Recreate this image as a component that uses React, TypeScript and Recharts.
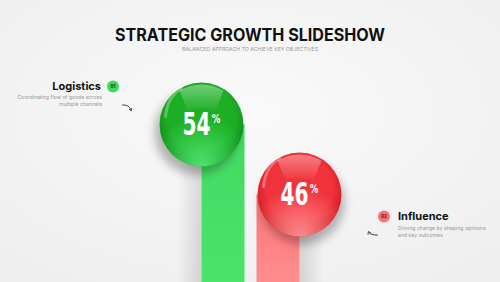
import React from 'react';
import { BarChart, Bar, XAxis, YAxis, Customized } from 'recharts';

const categories = ['Logistics', 'Influence'];
const values = [54, 46];
const badges = ['01', '02'];
const descriptions = [
  ['Coordinating flow of goods across', 'multiple channels'],
  ['Driving change by shaping opinions', 'and key outcomes'],
];
const title = 'STRATEGIC GROWTH SLIDESHOW';
const subtitle = 'BALANCED APPROACH TO ACHIEVE KEY OBJECTIVES';

const data = categories.map((name, i) => ({ name, value: values[i] }));

const palettes = [
  { light: '#52e872', mid: '#1faf28', dark: '#0f8418', bar: '#4ae46b', barTop: '#43d962', badge: '#3ddc5c' },
  { light: '#ff9296', mid: '#f0323a', dark: '#c41820', bar: '#ff8e8f', barTop: '#ff7478', badge: '#ff6f73' },
];

const R = 42;

const BallBar = (props: any) => {
  const { x, y, width, height, index } = props;
  const cx = x + width / 2;
  const cy = y;
  const bottom = y + height + 2;
  const p = palettes[index];
  const left = index === 0;
  const barX = left ? cx : cx - width;
  const id = `b${index}`;
  const numFont = "'DejaVu Sans Condensed', 'DejaVu Sans', sans-serif";
  return (
    <g>
      <defs>
        <radialGradient id={`${id}-body`} cx="50%" cy="42%" r="60%">
          <stop offset="0%" stopColor={p.mid} />
          <stop offset="65%" stopColor={p.mid} />
          <stop offset="100%" stopColor={p.dark} />
        </radialGradient>
        <radialGradient id={`${id}-glow`} cx="50%" cy="100%" r="60%">
          <stop offset="0%" stopColor={p.light} stopOpacity={0.95} />
          <stop offset="100%" stopColor={p.light} stopOpacity={0} />
        </radialGradient>
        <linearGradient id={`${id}-hi`} x1="0" y1="0" x2="0" y2="1">
          <stop offset="0%" stopColor="#ffffff" stopOpacity={0.75} />
          <stop offset="100%" stopColor="#ffffff" stopOpacity={0.05} />
        </linearGradient>
        <linearGradient id={`${id}-bar`} x1="0" y1="0" x2="0" y2="1">
          <stop offset="0%" stopColor={p.barTop} />
          <stop offset="100%" stopColor={p.bar} />
        </linearGradient>
        <linearGradient id={`${id}-sh`} x1={left ? '1' : '0'} y1="0" x2={left ? '0' : '1'} y2="0">
          <stop offset="0%" stopColor="#000" stopOpacity={0.14} />
          <stop offset="100%" stopColor="#000" stopOpacity={0} />
        </linearGradient>
        <filter id={`${id}-ds`} x="-40%" y="-40%" width="180%" height="180%">
          <feDropShadow dx={left ? -5 : 3} dy={8} stdDeviation={5} floodColor="#000" floodOpacity={0.28} />
        </filter>
      </defs>
      <rect x={left ? barX - 24 : barX + width} y={cy + 20} width={24} height={bottom - cy - 20} fill={`url(#${id}-sh)`} opacity={0.9} />
      <rect x={barX} y={cy} width={width} height={bottom - cy} fill={`url(#${id}-bar)`} />
      <circle cx={cx} cy={cy} r={R} fill={`url(#${id}-body)`} filter={`url(#${id}-ds)`} />
      <circle cx={cx} cy={cy} r={R} fill={`url(#${id}-glow)`} />
      <path
        d={`M ${cx - 22} ${cy - 34} Q ${cx} ${cy - 46} ${cx + 22} ${cy - 34} L ${cx + 14} ${cy - 14} Q ${cx} ${cy - 19} ${cx - 14} ${cy - 14} Z`}
        fill={`url(#${id}-hi)`}
        opacity={0.5}
      />
      <path d={`M ${cx - 36} ${cy - 8} Q ${cx - 34} ${cy - 28} ${cx - 20} ${cy - 36}`} stroke="#fff" strokeOpacity={0.3} strokeWidth={3} fill="none" strokeLinecap="round" />
      <text
        transform={`translate(${cx - 5}, ${cy + 10.5}) scale(0.7, 1)`}
        textAnchor="middle"
        fill="#ffffff"
        fontFamily={numFont}
        fontWeight={700}
        fontSize={32}
      >
        {values[index]}
      </text>
      <text
        transform={`translate(${cx + 14.5}, ${cy - 1.5}) scale(0.8, 1)`}
        textAnchor="middle"
        fill="#ffffff"
        fontFamily={numFont}
        fontWeight={700}
        fontSize={12}
      >
        %
      </text>
    </g>
  );
};

const Annotations = (props: any) => {
  const xs = [201, 299];
  const ys = [124.5, 194.5];
  const font = "Inter, 'Noto Sans', sans-serif";
  return (
    <g>
      <text x={250} y={41} textAnchor="middle" fontFamily={font} fontWeight={700} fontSize={17} fill="#111" textLength={270} lengthAdjust="spacingAndGlyphs">
        {title}
      </text>
      <text x={250} y={51} textAnchor="middle" fontFamily={font} fontSize={5.2} fill="#9a9a9a" textLength={136} lengthAdjust="spacingAndGlyphs">
        {subtitle}
      </text>
      <text x={xs[0] - 100} y={ys[0] - 35} textAnchor="end" fontFamily={font} fontWeight={700} fontSize={11} fill="#111">
        {categories[0]}
      </text>
      <circle cx={xs[0] - 88} cy={ys[0] - 38} r={6} fill={palettes[0].badge} />
      <text x={xs[0] - 88} y={ys[0] - 36.3} textAnchor="middle" fontFamily={font} fontWeight={700} fontSize={4.5} fill="#222">{badges[0]}</text>
      {descriptions[0].map((d, i) => (
        <text key={i} x={xs[0] - 99} y={ys[0] - 26 + i * 7} textAnchor="end" fontFamily={font} fontSize={5.2} fill="#999">{d}</text>
      ))}
      <path d={`M ${xs[0] - 79} ${ys[0] - 19.5} Q ${xs[0] - 72} ${ys[0] - 20} ${xs[0] - 70} ${ys[0] - 14.5}`} stroke="#333" strokeWidth={0.9} fill="none" />
      <path d={`M ${xs[0] - 72} ${ys[0] - 15.5} L ${xs[0] - 69.8} ${ys[0] - 13.5} L ${xs[0] - 69.2} ${ys[0] - 16.5}`} stroke="#333" strokeWidth={0.8} fill="none" />
      <circle cx={xs[1] + 85} cy={ys[1] + 22} r={6} fill={palettes[1].badge} />
      <text x={xs[1] + 85} y={ys[1] + 23.7} textAnchor="middle" fontFamily={font} fontWeight={700} fontSize={4.5} fill="#222">{badges[1]}</text>
      <text x={xs[1] + 99} y={ys[1] + 25} fontFamily={font} fontWeight={700} fontSize={11} fill="#111">
        {categories[1]}
      </text>
      {descriptions[1].map((d, i) => (
        <text key={i} x={xs[1] + 99} y={ys[1] + 35 + i * 7} fontFamily={font} fontSize={5.2} fill="#999">{d}</text>
      ))}
      <path d={`M ${xs[1] + 69.5} ${ys[1] + 37.5} Q ${xs[1] + 72} ${ys[1] + 41} ${xs[1] + 79} ${ys[1] + 40.5}`} stroke="#333" strokeWidth={0.9} fill="none" />
      <path d={`M ${xs[1] + 69} ${ys[1] + 40.5} L ${xs[1] + 69.3} ${ys[1] + 37} L ${xs[1] + 72} ${ys[1] + 38.5}`} stroke="#333" strokeWidth={0.8} fill="none" />
    </g>
  );
};

export default function App() {
  return (
    <div style={{ position: 'fixed', left: 0, top: 0, width: 500, height: 282, background: '#f5f5f5' }}>
      <BarChart width={500} height={282} data={data} margin={{ top: 72, right: 152, bottom: 0, left: 152 }}>
        <defs>
          <radialGradient id="bgGrad" cx="50%" cy="40%" r="70%">
            <stop offset="0%" stopColor="#fafafa" />
            <stop offset="100%" stopColor="#efefef" />
          </radialGradient>
        </defs>
        <rect x={0} y={0} width={500} height={282} fill="url(#bgGrad)" />
        <XAxis dataKey="name" hide />
        <YAxis hide domain={[36, 60]} allowDataOverflow />
        <Bar dataKey="value" barSize={43} shape={BallBar} isAnimationActive={false} />
        <Customized component={Annotations} />
      </BarChart>
    </div>
  );
}
